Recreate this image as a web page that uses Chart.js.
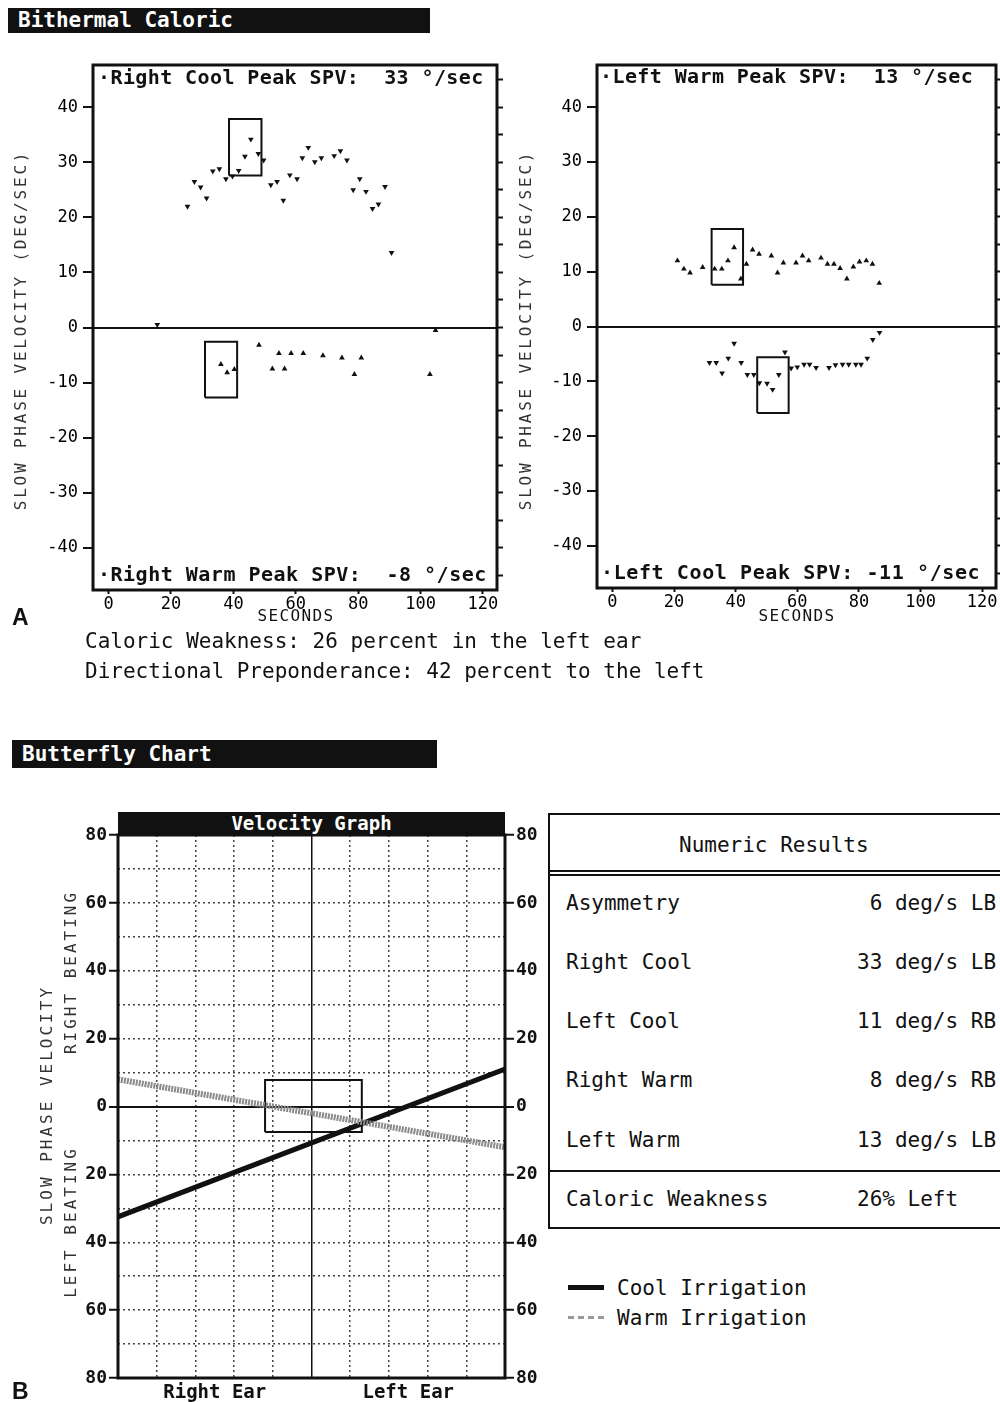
<!DOCTYPE html>
<html>
<head>
<meta charset="utf-8">
<script src="https://cdn.jsdelivr.net/npm/chart.js@4.4.1/dist/chart.umd.min.js"></script>
<style>
  body { margin: 0; width: 1000px; height: 1402px; background: #fff; position: relative; overflow: hidden;
         font-family: "DejaVu Sans Mono", "Liberation Mono", monospace; color: #111; }
  .abs { position: absolute; }
  .bar { background: #111; color: #fff; font-weight: bold; font-size: 21px; padding-left: 10px; box-sizing: border-box; white-space: pre; }
  .line { font-size: 21px; white-space: pre; }
  .big { font-family: "Liberation Sans", Arial, sans-serif; font-weight: bold; font-size: 23px; }
  #results { left: 548px; top: 813px; width: 480px; height: 416px; border: 2px solid #111; box-sizing: border-box; }
  #results div { position: absolute; font-size: 21px; white-space: pre; line-height: 24px; }
  .rule { height: 0; border-top: 2px solid #111; left: 0; right: 0; }
  .swatch { position: absolute; width: 36px; }
</style>
</head>
<body>

<div class="abs bar" style="left:8px;top:8px;width:422px;height:25px;line-height:25px;">Bithermal Caloric</div>

<div class="abs" style="left:0;top:40px;width:510px;height:600px;"><canvas id="rightEar"></canvas></div>
<div class="abs" style="left:505px;top:40px;width:495px;height:600px;"><canvas id="leftEar"></canvas></div>

<div class="abs big" style="left:12px;top:604px;">A</div>
<div class="abs line" style="left:85px;top:629px;">Caloric Weakness: 26 percent in the left ear</div>
<div class="abs line" style="left:85px;top:659px;">Directional Preponderance: 42 percent to the left</div>

<div class="abs bar" style="left:12px;top:740px;width:425px;height:28px;line-height:28px;">Butterfly Chart</div>

<div class="abs" style="left:0;top:790px;width:548px;height:612px;"><canvas id="butterfly"></canvas></div>
<div class="abs" style="left:118px;top:812px;width:387px;height:22px;background:#111;color:#fff;font-weight:bold;font-size:19px;line-height:22px;text-align:center;">Velocity Graph</div>

<div id="results" class="abs">
  <div style="left:129px;top:18px;">Numeric Results</div>
  <div class="rule" style="top:55px;"></div>
  <div class="rule" style="top:59px;"></div>
  <div style="left:16px;top:76px;">Asymmetry</div>      <div style="left:307px;top:76px;"> 6 deg/s LB</div>
  <div style="left:16px;top:135px;">Right Cool</div>    <div style="left:307px;top:135px;">33 deg/s LB</div>
  <div style="left:16px;top:194px;">Left Cool</div>     <div style="left:307px;top:194px;">11 deg/s RB</div>
  <div style="left:16px;top:253px;">Right Warm</div>    <div style="left:307px;top:253px;"> 8 deg/s RB</div>
  <div style="left:16px;top:313px;">Left Warm</div>     <div style="left:307px;top:313px;">13 deg/s LB</div>
  <div class="rule" style="top:355px;"></div>
  <div style="left:16px;top:372px;">Caloric Weakness</div><div style="left:307px;top:372px;">26% Left</div>
</div>

<div class="swatch" style="left:568px;top:1285px;border-top:5px solid #111;"></div>
<div class="abs line" style="left:617px;top:1276px;">Cool Irrigation</div>
<div class="swatch" style="left:568px;top:1316px;border-top:3px dashed #999;"></div>
<div class="abs line" style="left:617px;top:1306px;">Warm Irrigation</div>

<div class="abs big" style="left:12px;top:1378px;">B</div>

<script>
const MONO = '"DejaVu Sans Mono", "Liberation Mono", monospace';
const INK = '#111';
const NONE = 'rgba(0,0,0,0)';

// ---- Bithermal caloric: slow phase velocity (deg/sec) against time (sec) ----
const secTicks = [0, 20, 40, 60, 80, 100, 120];
const spvTicks = [-40, -30, -20, -10, 0, 10, 20, 30, 40];
const spvMinor = [-45, -40, -35, -30, -25, -20, -15, -10, -5, 0, 5, 10, 15, 20, 25, 30, 35, 40, 45];

// right ear, cool irrigation
const rcTime = [15.6, 25.3, 27.5, 29.5, 31.4, 33.4, 35.5, 37.6, 39.7, 41.7, 43.7, 45.6, 48, 49.7, 52, 54, 56,
                58.1, 60.4, 62.1, 64, 66.1, 68.2, 72.3, 74.3, 76.4, 78.4, 80.5, 82.5, 84.6, 86.5, 88.6, 90.7];
const rcSpv  = [0.5, 22.0, 26.5, 25.5, 23.5, 28.4, 28.8, 27.0, 27.5, 28.5, 31.1, 34.2, 31.6, 30.4, 25.9, 26.5, 23.1,
                27.7, 27.0, 30.8, 32.7, 30.1, 30.8, 31.2, 32.1, 30.4, 25.0, 27.0, 24.7, 21.6, 22.4, 25.6, 13.6];
// right ear, warm irrigation
const rwTime = [36, 38, 40.3, 48.2, 52.5, 54.6, 56.4, 58.5, 62.4, 68.7, 74.8, 78.8, 81, 103, 104.8];
const rwSpv  = [-6.7, -8.2, -7.6, -3.2, -7.5, -4.7, -7.5, -4.7, -4.7, -5.1, -5.5, -8.5, -5.5, -8.5, -0.5];
// left ear, warm irrigation
const lwTime = [21.1, 23.2, 25.2, 29.3, 33.2, 35.5, 37.5, 39.5, 41.7, 43.5, 45.5, 47.6, 51.6, 53.6, 55.5, 59.6,
                61.7, 63.7, 67.7, 69.8, 71.9, 73.9, 76.1, 78.2, 80.2, 82.4, 84.4, 86.6];
const lwSpv  = [12.0, 10.5, 9.8, 10.8, 10.5, 10.5, 12.0, 14.4, 8.7, 11.4, 14.0, 13.2, 12.9, 9.8, 11.6, 11.6,
                12.9, 12.0, 12.5, 11.4, 11.4, 10.6, 8.7, 10.9, 11.8, 12.0, 11.4, 7.9];
// left ear, cool irrigation
const lcTime = [31.5, 33.7, 35.6, 37.6, 39.5, 41.8, 43.8, 45.9, 47.7, 50.2, 52, 54, 56, 58, 60, 62.2, 64, 66.1,
                70.3, 72.4, 74.7, 76.7, 79, 80.7, 82.7, 84.5, 86.7];
const lcSpv  = [-6.6, -6.6, -8.5, -5.8, -3.1, -6.6, -8.8, -8.8, -10.3, -10.4, -11.5, -8.8, -4.7, -7.6, -7.4, -6.9, -6.9, -7.5,
                -7.5, -7.0, -6.9, -6.9, -6.9, -6.9, -5.8, -2.4, -1.1];

// peak windows: [t0, t1, v0, v1]
const rcPeakBox = [38.6, 49, 27.6, 37.9];
const rwPeakBox = [30.9, 41.2, -12.7, -2.6];
const lwPeakBox = [32.2, 42.4, 7.6, 17.8];
const lcPeakBox = [47, 57.2, -15.8, -5.6];

// ---- Butterfly chart ----
const earX = [0, 10];
const coolSpv = [-32.5, 11];
const warmSpv = [8, -12];
const earGrid = [0, 1, 2, 3, 4, 5, 6, 7, 8, 9, 10];
const earLabelPos = [2.5, 7.5];
const earLabels = ['Right Ear', 'Left Ear'];
const velGrid = [-80, -70, -60, -50, -40, -30, -20, -10, 0, 10, 20, 30, 40, 50, 60, 70, 80];
const velBox = [3.8, 6.3, -7.5, 7.8];

const framePlugin = {
  id: 'frame',
  afterDatasetsDraw(chart) {
    const { ctx, chartArea: a } = chart;
    ctx.save();
    ctx.lineWidth = 3;
    ctx.strokeStyle = INK;
    ctx.strokeRect(a.left, a.top, a.right - a.left, a.bottom - a.top);
    ctx.restore();
  }
};

function notes(items) {
  return {
    id: 'notes',
    afterDraw(chart) {
      const ctx = chart.ctx;
      items.forEach(n => {
        ctx.save();
        ctx.font = n.font;
        ctx.fillStyle = n.color || INK;
        if ('letterSpacing' in ctx) ctx.letterSpacing = (n.spacing || 0) + 'px';
        ctx.textAlign = n.align || 'left';
        ctx.textBaseline = 'middle';
        ctx.translate(n.x, n.y);
        if (n.rotate) ctx.rotate(n.rotate);
        ctx.fillText(n.text, 0, 0);
        ctx.restore();
      });
    }
  };
}

function points(t, v, down) {
  return {
    data: t.map((x, i) => ({ x, y: v[i] })),
    showLine: false, pointStyle: 'triangle', rotation: down ? 180 : 0,
    pointRadius: 3.3, backgroundColor: INK, borderColor: INK, borderWidth: 0
  };
}

function rect(b) {
  return {
    data: [{ x: b[0], y: b[2] }, { x: b[1], y: b[2] }, { x: b[1], y: b[3] }, { x: b[0], y: b[3] }, { x: b[0], y: b[2] }],
    showLine: true, pointRadius: 0, borderColor: INK, borderWidth: 2, fill: false
  };
}

function spvChart(id, datasets, dims, items) {
  new Chart(document.getElementById(id), {
    type: 'scatter',
    data: { datasets },
    options: {
      responsive: true, maintainAspectRatio: false, animation: false,
      layout: { padding: { top: 25 } },
      plugins: { legend: { display: false }, tooltip: { enabled: false } },
      scales: {
        x: {
          type: 'linear', min: -5, max: 124.5,
          afterBuildTicks: s => { s.ticks = secTicks.map(v => ({ value: v })); },
          afterFit: s => { s.height = dims.xh; },
          grid: { drawOnChartArea: false, tickLength: 4, tickColor: INK, tickWidth: 2 },
          border: { display: false },
          ticks: { font: { family: MONO, size: 17 }, color: '#000', padding: 0, maxRotation: 0, autoSkip: false }
        },
        y: {
          min: -47.7, max: 47.7,
          afterBuildTicks: s => { s.ticks = spvTicks.map(v => ({ value: v })); },
          afterFit: s => { s.width = dims.yw; },
          grid: {
            color: c => (c.tick && c.tick.value === 0) ? INK : NONE,
            lineWidth: 2, tickLength: 10, tickColor: INK, tickWidth: 2
          },
          border: { display: false },
          ticks: { font: { family: MONO, size: 17 }, color: '#000', padding: 5, autoSkip: false }
        },
        y2: {
          position: 'right', min: -47.7, max: 47.7,
          afterBuildTicks: s => { s.ticks = spvMinor.map(v => ({ value: v })); },
          afterFit: s => { s.width = dims.rw; },
          grid: { drawOnChartArea: false, tickLength: 6, tickColor: INK, tickWidth: 2 },
          border: { display: false },
          ticks: { display: false }
        }
      }
    },
    plugins: [framePlugin, notes(items)]
  });
}

const TXT = 'bold 20px ' + MONO;
const THIN = '16px ' + MONO;

spvChart('rightEar',
  [points(rcTime, rcSpv, true), points(rwTime, rwSpv, false), rect(rcPeakBox), rect(rwPeakBox)],
  { yw: 93, rw: 13, xh: 50 },
  [
    { text: '·Right Cool Peak SPV:  33 °/sec', x: 98, y: 39, font: TXT, spacing: 0.4 },
    { text: '·Right Warm Peak SPV:  -8 °/sec', x: 98, y: 536, font: TXT, spacing: 0.5 },
    { text: 'SECONDS', x: 296, y: 577, font: THIN, spacing: 1.4, align: 'center' },
    { text: 'SLOW PHASE VELOCITY (DEG/SEC)', x: 22, y: 290, font: THIN, spacing: 2.8, align: 'center', rotate: -Math.PI / 2, color: '#333' }
  ]);

spvChart('leftEar',
  [points(lwTime, lwSpv, false), points(lcTime, lcSpv, true), rect(lwPeakBox), rect(lcPeakBox)],
  { yw: 92, rw: 3, xh: 52 },
  [
    { text: '·Left Warm Peak SPV:  13 °/sec', x: 95, y: 38, font: TXT, spacing: 0.4 },
    { text: '·Left Cool Peak SPV: -11 °/sec', x: 96, y: 534, font: TXT, spacing: 0.6 },
    { text: 'SECONDS', x: 292, y: 577, font: THIN, spacing: 1.4, align: 'center' },
    { text: 'SLOW PHASE VELOCITY (DEG/SEC)', x: 22, y: 290, font: THIN, spacing: 2.8, align: 'center', rotate: -Math.PI / 2, color: '#333' }
  ]);

// Butterfly
const velTickFont = { family: MONO, size: 18, weight: 'bold' };
const isMajor = v => v % 20 === 0;
const velScale = (position, width, onArea) => ({
  position, min: -80, max: 80,
  afterBuildTicks: s => { s.ticks = velGrid.map(v => ({ value: v })); },
  afterFit: s => { s.width = width; },
  grid: {
    drawOnChartArea: onArea,
    color: c => { const v = c.tick ? c.tick.value : 1; return v === 0 ? INK : (Math.abs(v) === 80 ? NONE : '#444'); },
    lineWidth: c => (c.tick && c.tick.value === 0) ? 2 : 1.5,
    tickLength: 9, tickWidth: 2,
    tickColor: c => (c.tick && isMajor(c.tick.value)) ? INK : NONE
  },
  border: { display: false, dash: c => (c.tick && c.tick.value === 0) ? [] : [2, 3] },
  ticks: { font: velTickFont, color: INK, padding: 2, autoSkip: false,
           callback: v => isMajor(v) ? String(Math.abs(v)) : '' }
});

new Chart(document.getElementById('butterfly'), {
  type: 'scatter',
  data: {
    datasets: [
      { data: earX.map((x, i) => ({ x, y: warmSpv[i] })), showLine: true, pointRadius: 0,
        borderColor: '#8a8a8a', borderWidth: 6, borderDash: [2, 1] },
      { data: earX.map((x, i) => ({ x, y: coolSpv[i] })), showLine: true, pointRadius: 0,
        borderColor: INK, borderWidth: 5 },
      rect([velBox[0], velBox[1], velBox[2], velBox[3]])
    ]
  },
  options: {
    responsive: true, maintainAspectRatio: false, animation: false,
    layout: { padding: { top: 45 } },
    plugins: { legend: { display: false }, tooltip: { enabled: false } },
    scales: {
      x: {
        type: 'linear', min: 0, max: 10,
        afterBuildTicks: s => { s.ticks = earGrid.map(v => ({ value: v })); },
        afterFit: s => { s.height = 0; },
        grid: {
          drawTicks: false,
          color: c => { const v = c.tick ? c.tick.value : 0; return v === 5 ? INK : (v === 0 || v === 10 ? NONE : '#444'); },
          lineWidth: 1.5
        },
        border: { display: false, dash: c => (c.tick && c.tick.value === 5) ? [] : [2, 3] },
        ticks: { display: false }
      },
      x2: {
        type: 'linear', position: 'bottom', min: 0, max: 10,
        afterBuildTicks: s => { s.ticks = earLabelPos.map(v => ({ value: v })); },
        afterFit: s => { s.height = 24; },
        grid: { display: false, drawTicks: false },
        border: { display: false },
        ticks: { font: { family: MONO, size: 19, weight: 'bold' }, color: INK, padding: 4, autoSkip: false,
                 maxRotation: 0, callback: (v, i) => earLabels[i] }
      },
      y: velScale('left', 118, true),
      y2: velScale('right', 43, false)
    }
  },
  plugins: [framePlugin, notes([
    { text: 'SLOW PHASE VELOCITY', x: 48, y: 315, font: THIN, spacing: 3, align: 'center', rotate: -Math.PI / 2, color: '#333' },
    { text: 'RIGHT BEATING', x: 72, y: 182, font: THIN, spacing: 3, align: 'center', rotate: -Math.PI / 2, color: '#333' },
    { text: 'LEFT BEATING', x: 72, y: 432, font: THIN, spacing: 3, align: 'center', rotate: -Math.PI / 2, color: '#333' }
  ])]
});
</script>
</body>
</html>
